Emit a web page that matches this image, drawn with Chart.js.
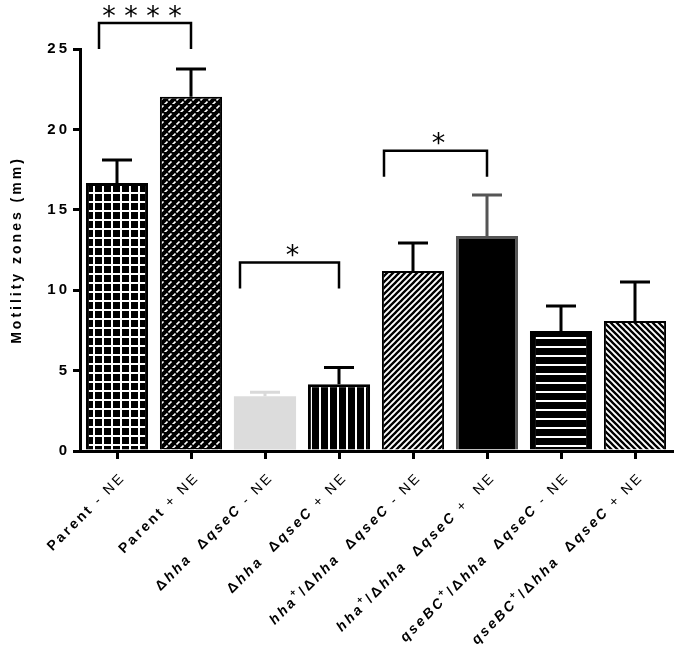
<!DOCTYPE html>
<html>
<head>
<meta charset="utf-8">
<script src="https://cdn.jsdelivr.net/npm/chart.js@4.4.0/dist/chart.umd.min.js"></script>
<style>
  body { margin: 0; background: #fff; }
  canvas { display: block; }
</style>
</head>
<body>
<canvas id="motility-graph" width="685" height="651"></canvas>
<script>
// _x_ = italic, ^+ = superscript
const categories = [
  'Parent - NE',
  'Parent + NE',
  'Δ_hha_  Δ_qseC_ - NE',
  'Δ_hha_  Δ_qseC_ + NE',
  '_hha_^+/Δ_hha_  Δ_qseC_ - NE',
  '_hha_^+/Δ_hha_  Δ_qseC_ +  NE',
  '_qseBC_^+/Δ_hha_  Δ_qseC_ - NE',
  '_qseBC_^+/Δ_hha_  Δ_qseC_ + NE'
];
const means  = [16.67, 22.03, 3.4, 4.15, 11.19, 13.37, 7.46, 8.08];
const errors = [1.43, 1.73, 0.25, 1.05, 1.74, 2.55, 1.56, 2.43];
const yTicks = [0, 5, 10, 15, 20, 25];

// significance: pairs of bars, stars, level of bracket arms (mm)
const sigPairs  = [[0, 1], [2, 3], [4, 5]];
const sigStars  = ['****', '*', '*'];
const sigLevels = [25, 10.1, 17.06];

const FONT = 'Liberation Sans';
const ctx = document.getElementById('motility-graph').getContext('2d');

function makePattern(w, h, draw) {
  const c = document.createElement('canvas');
  c.width = w; c.height = h;
  const g = c.getContext('2d');
  draw(g);
  return ctx.createPattern(c, 'repeat');
}

const gridPat = makePattern(9, 9, g => {
  g.fillStyle = '#000'; g.fillRect(0, 0, 9, 9);
  g.fillStyle = '#fff'; g.fillRect(3, 0, 2, 9); g.fillRect(0, 3, 9, 2);
});
const brickPat = makePattern(8, 8, g => {
  g.fillStyle = '#000'; g.fillRect(0, 0, 8, 8);
  g.strokeStyle = '#fff'; g.lineWidth = 1.7;
  g.beginPath();
  g.moveTo(0.5, 4.5); g.lineTo(3.5, 1.5);
  g.moveTo(4.5, 8.5); g.lineTo(7.5, 5.5);
  g.moveTo(-3.5, 8.5); g.lineTo(-0.5, 5.5);
  g.stroke();
});
const vertPat = makePattern(9, 4, g => {
  g.fillStyle = '#000'; g.fillRect(0, 0, 9, 4);
  g.fillStyle = '#fff'; g.fillRect(4, 0, 2, 4);
});
const horizPat = makePattern(4, 9, g => {
  g.fillStyle = '#000'; g.fillRect(0, 0, 4, 9);
  g.fillStyle = '#fff'; g.fillRect(0, 4, 4, 2);
});
function diagPat(dir) {
  return makePattern(6, 6, g => {
    g.fillStyle = '#fff'; g.fillRect(0, 0, 6, 6);
    g.strokeStyle = '#000'; g.lineWidth = 2.3;
    g.beginPath();
    for (let k = -6; k <= 12; k += 6) {
      if (dir > 0) { g.moveTo(k + 1, -1); g.lineTo(k - 7, 7); }
      else { g.moveTo(k - 1, -1); g.lineTo(k + 7, 7); }
    }
    g.stroke();
  });
}

function parseLabel(s) {
  const segs = [];
  const re = /_([^_]+)_|\^(\+)|([^_^]+)/g;
  let m;
  while ((m = re.exec(s))) {
    if (m[1]) segs.push({ t: m[1], it: true });
    else if (m[2]) segs.push({ t: m[2], sup: true });
    else {
      const parts = m[3].split(/(\s[-+]\s+NE)$/);
      if (parts[0]) segs.push({ t: parts[0] });
      if (parts[1]) segs.push({ t: parts[1], light: true });
    }
  }
  return segs;
}

const errColors = ['#000', '#000', '#d9d9d9', '#000', '#000', '#555', '#000', '#000'];

const spacingPlugin = {
  id: 'spacing',
  beforeDraw(chart) { chart.ctx.letterSpacing = '3px'; }
};

const errorBarPlugin = {
  id: 'errorBars',
  afterDatasetsDraw(chart) {
    const c = chart.ctx, y = chart.scales.y;
    const meta = chart.getDatasetMeta(0);
    c.save();
    c.lineWidth = 3;
    meta.data.forEach((bar, i) => {
      const top = y.getPixelForValue(means[i] + errors[i]);
      c.strokeStyle = errColors[i];
      c.beginPath();
      c.moveTo(bar.x, bar.y);
      c.lineTo(bar.x, top);
      c.moveTo(bar.x - 15, top);
      c.lineTo(bar.x + 15, top);
      c.stroke();
    });
    c.restore();
  }
};

const bracketShift = [18, 25, 29];
const bracketPlugin = {
  id: 'brackets',
  afterDraw(chart) {
    const c = chart.ctx, x = chart.scales.x, y = chart.scales.y;
    c.save();
    c.letterSpacing = '0px';
    c.strokeStyle = '#000';
    c.fillStyle = '#000';
    c.lineWidth = 2.5;
    sigPairs.forEach((p, i) => {
      const x1 = x.getPixelForValue(p[0]) - bracketShift[i];
      const x2 = x.getPixelForValue(p[1]);
      const base = y.getPixelForValue(sigLevels[i]);
      const top = base - 26;
      c.beginPath();
      c.moveTo(x1, base); c.lineTo(x1, top); c.lineTo(x2, top); c.lineTo(x2, base);
      c.stroke();
      const n = sigStars[i].length;
      const cx = (x1 + x2) / 2 - (n > 1 ? 3 : -3);
      const cy = top - 12;
      c.font = '27px "DejaVu Sans"';
      c.textAlign = 'center';
      c.textBaseline = 'alphabetic';
      const mt = c.measureText('*');
      const off = (mt.actualBoundingBoxAscent - mt.actualBoundingBoxDescent) / 2;
      for (let k = 0; k < n; k++) {
        c.fillText('*', cx + (k - (n - 1) / 2) * 22, cy + off);
      }
    });
    c.restore();
  }
};

const labelPlugin = {
  id: 'richLabels',
  afterDraw(chart) {
    const c = chart.ctx, x = chart.scales.x;
    const bottom = chart.chartArea.bottom;
    c.save();
    c.letterSpacing = '2.6px';
    c.fillStyle = '#000';
    c.textBaseline = 'alphabetic';
    c.textAlign = 'left';
    const fontFor = s =>
      (s.it ? 'italic ' : '') + (s.light ? 'normal ' : 'bold ') +
      (s.sup ? '10px ' : '14px ') + '"' + FONT + '"';
    categories.forEach((lab, i) => {
      const segs = parseLabel(lab);
      let w = 0;
      segs.forEach(s => { c.font = fontFor(s); w += c.measureText(s.t).width; });
      c.save();
      c.translate(x.getPixelForValue(i) + 9, bottom + 27);
      c.rotate(-Math.PI / 4);
      let px = -w;
      segs.forEach(s => {
        c.font = fontFor(s);
        c.fillText(s.t, px, s.sup ? -7 : 0);
        px += c.measureText(s.t).width;
      });
      c.restore();
    });
    c.restore();
  }
};

const chart = new Chart(ctx, {
  type: 'bar',
  data: {
    labels: categories.map(s => s.replace(/[_^]/g, '')),
    datasets: [{
      data: means,
      backgroundColor: [gridPat, brickPat, '#dcdcdc', vertPat, diagPat(1), '#000', horizPat, diagPat(-1)],
      borderColor: ['#000', '#000', '#dcdcdc', '#000', '#000', '#555', '#000', '#000'],
      borderWidth: [3, 2, 0, 3, 2, 3, 6, 2],
      barPercentage: 0.84,
      categoryPercentage: 1
    }]
  },
  options: {
    responsive: false,
    animation: false,
    devicePixelRatio: 1,
    layout: { padding: { top: 49, right: 13, left: 0, bottom: 0 } },
    plugins: { legend: { display: false }, tooltip: { enabled: false } },
    scales: {
      x: {
        offset: true,
        grid: { drawOnChartArea: false, offset: false, color: '#000', lineWidth: 3, tickLength: 8 },
        border: { color: '#000', width: 3 },
        ticks: { display: false },
        afterFit(s) { s.height = 200; }
      },
      y: {
        min: 0,
        max: 25,
        afterBuildTicks(s) { s.ticks = yTicks.map(v => ({ value: v })); },
        grid: { drawOnChartArea: false, color: '#000', lineWidth: 3, tickLength: 7 },
        border: { color: '#000', width: 3 },
        ticks: { color: '#000', padding: 3, font: { family: FONT, size: 15, weight: 'bold' } },
        title: {
          display: true,
          text: 'Motility zones (mm)',
          color: '#000',
          padding: { top: 9 },
          font: { family: FONT, size: 14, weight: 'bold' }
        },
        afterFit(s) { s.width = 80; }
      }
    }
  },
  plugins: [spacingPlugin, errorBarPlugin, bracketPlugin, labelPlugin]
});
</script>
</body>
</html>
